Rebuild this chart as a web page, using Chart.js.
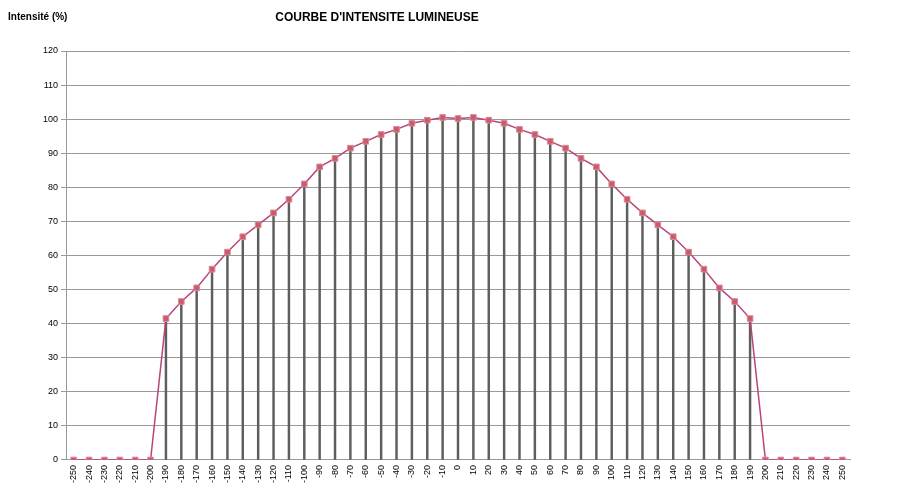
<!DOCTYPE html>
<html><head><meta charset="utf-8">
<script src="https://cdn.jsdelivr.net/npm/chart.js@4.4.0/dist/chart.umd.min.js"></script>
<style>
html,body{margin:0;padding:0;background:#fff;}
#wrap{position:relative;width:900px;height:491px;}
#title{position:absolute;left:0;width:754px;top:10px;text-align:center;font:bold 12px "Liberation Sans",Arial,sans-serif;color:#000;}
#ylab{position:absolute;left:8px;top:11px;font:bold 10px "Liberation Sans",Arial,sans-serif;color:#000;}
</style></head>
<body><div id="wrap">
<canvas id="c" width="900" height="491"></canvas>
<div id="title">COURBE D'INTENSITE LUMINEUSE</div>
<div id="ylab">Intensité (%)</div>
</div>
<script>
const angles = ["-250","-240","-230","-220","-210","-200","-190","-180","-170","-160","-150","-140","-130","-120","-110","-100","-90","-80","-70","-60","-50","-40","-30","-20","-10","0","10","20","30","40","50","60","70","80","90","100","110","120","130","140","150","160","170","180","190","200","210","220","230","240","250"];
const intensity = [0,0,0,0,0,0,41.5,46.5,50.5,56,61,65.5,69,72.5,76.5,81,86,88.5,91.5,93.5,95.5,97,98.8,99.7,100.5,100.2,100.5,99.7,98.8,97,95.5,93.5,91.5,88.5,86,81,76.5,72.5,69,65.5,61,56,50.5,46.5,41.5,0,0,0,0,0,0];
const yTicks = [0,10,20,30,40,50,60,70,80,90,100,110,120];

Chart.defaults.font.family = '"Liberation Sans", Arial, sans-serif';
new Chart(document.getElementById('c'), {
  type: 'bar',
  data: {
    labels: angles,
    datasets: [
      { type: 'line', data: intensity, borderColor: '#b8447a', borderWidth: 1.5,
        pointStyle: 'rect', pointRadius: 4, pointBackgroundColor: '#cc5a6a',
        pointBorderColor: '#d98a9c', pointBorderWidth: 1, tension: 0, order: 0 },
      { type: 'bar', data: intensity, backgroundColor: '#5e5e5e', barThickness: 1.8, order: 1 }
    ]
  },
  options: {
    responsive: false, animation: false,
    layout: { padding: { top: 51, right: 50, left: 40, bottom: 6 } },
    plugins: { legend: { display: false }, tooltip: { enabled: false } },
    scales: {
      x: {
        grid: { display: false, drawTicks: true, tickLength: 3 },
        border: { color: '#999' },
        ticks: { color: '#000', font: { size: 9 }, minRotation: 90, maxRotation: 90, autoSkip: false, padding: 2 }
      },
      y: {
        min: 0, max: 120,
        afterBuildTicks: (s) => { s.ticks = yTicks.map(v => ({ value: v })); },
        grid: { color: '#999', tickLength: 5, lineWidth: 1 },
        border: { color: '#999' },
        ticks: { color: '#000', font: { size: 9 }, padding: 3 }
      }
    }
  }
});
</script>
</body></html>
